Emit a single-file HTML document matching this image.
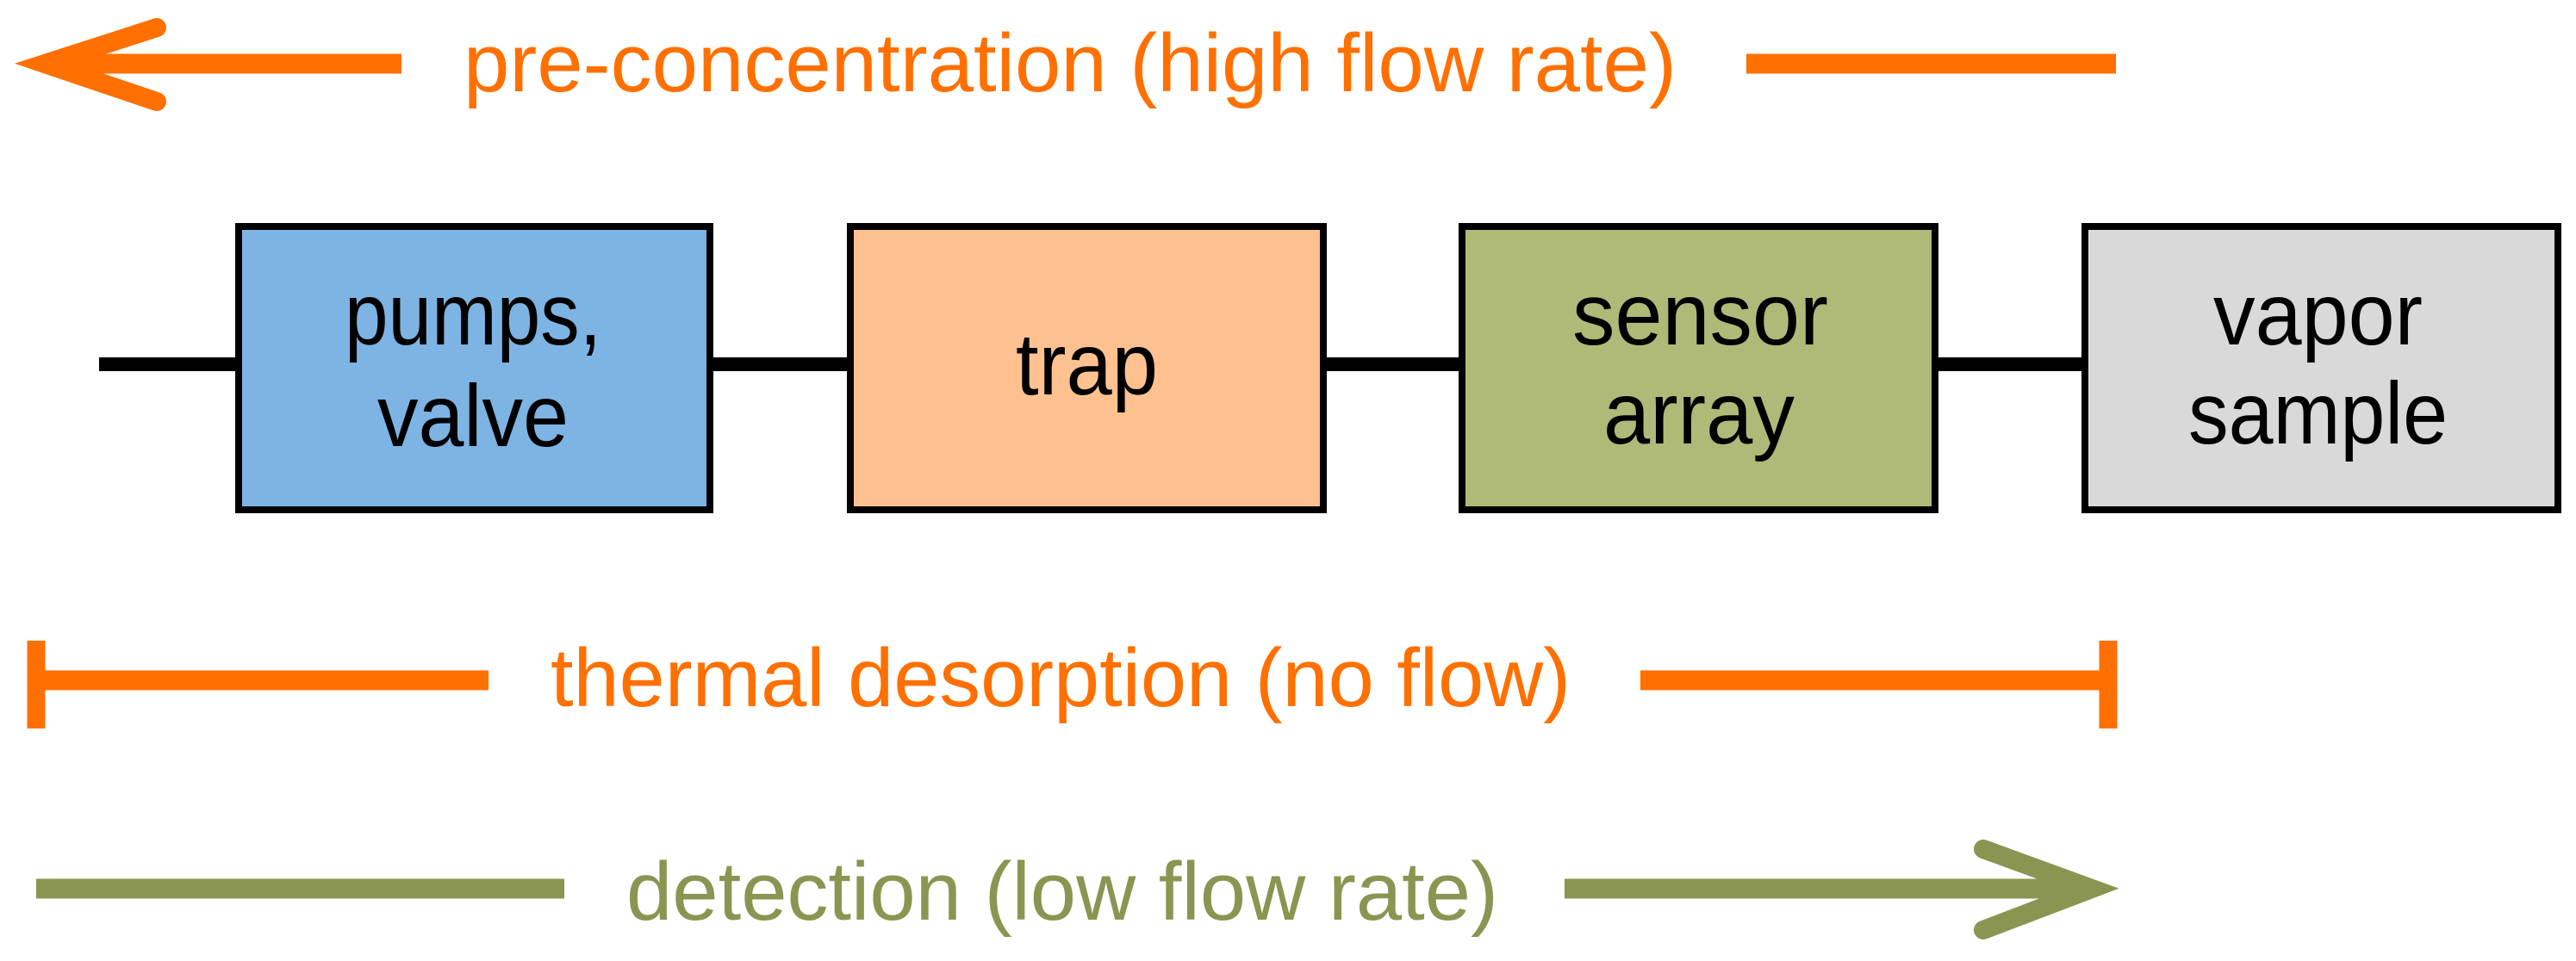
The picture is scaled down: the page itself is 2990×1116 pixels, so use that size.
<!DOCTYPE html>
<html><head><meta charset="utf-8"><style>html,body{margin:0;padding:0;background:#fff;}svg{display:block;}</style></head>
<body>
<svg width="2990" height="1116" viewBox="0 0 2990 1116" xmlns="http://www.w3.org/2000/svg" font-family="Liberation Sans, Arial, sans-serif">
<!-- pre-concentration -->
<g stroke="#ff7000" fill="none">
<line x1="60" y1="74" x2="466" y2="74" stroke-width="23"/>
<polyline points="182,32 52,74 182,118" stroke-width="22" stroke-linecap="round" stroke-linejoin="miter"/>
<line x1="2027" y1="74" x2="2456" y2="74" stroke-width="23"/>
</g>
<text x="538" y="106" font-size="96" fill="#ff7000" textLength="1408" lengthAdjust="spacingAndGlyphs">pre-concentration (high flow rate)</text>

<!-- connectors -->
<g stroke="#000" stroke-width="16">
<line x1="115" y1="423" x2="277" y2="423"/>
<line x1="824" y1="423" x2="987" y2="423"/>
<line x1="1536" y1="423" x2="1697" y2="423"/>
<line x1="2246" y1="423" x2="2420" y2="423"/>
</g>
<!-- boxes -->
<g stroke="#000" stroke-width="8">
<rect x="277" y="263" width="547" height="329" fill="#7eb4e4"/>
<rect x="987" y="263" width="549" height="329" fill="#ffc190"/>
<rect x="1697" y="263" width="549" height="329" fill="#afba78"/>
<rect x="2420" y="263" width="549" height="329" fill="#d9d9d9"/>
</g>
<g font-size="102" fill="#000">
<text x="400" y="400" textLength="298" lengthAdjust="spacingAndGlyphs">pumps,</text>
<text x="438" y="518" textLength="222" lengthAdjust="spacingAndGlyphs">valve</text>
<text x="1179" y="458" textLength="165" lengthAdjust="spacingAndGlyphs">trap</text>
<text x="1825" y="400" textLength="297" lengthAdjust="spacingAndGlyphs">sensor</text>
<text x="1861" y="515" textLength="222" lengthAdjust="spacingAndGlyphs">array</text>
<text x="2569" y="400" textLength="243" lengthAdjust="spacingAndGlyphs">vapor</text>
<text x="2540" y="515" textLength="301" lengthAdjust="spacingAndGlyphs">sample</text>
</g>

<!-- thermal desorption -->
<g stroke="#ff7000">
<line x1="42" y1="790" x2="567" y2="790" stroke-width="23"/>
<line x1="42" y1="744" x2="42" y2="846" stroke-width="21"/>
<line x1="1904" y1="790" x2="2447" y2="790" stroke-width="23"/>
<line x1="2447" y1="744" x2="2447" y2="846" stroke-width="21"/>
</g>
<text x="639" y="820" font-size="96" fill="#ff7000" textLength="1184" lengthAdjust="spacingAndGlyphs">thermal desorption (no flow)</text>

<!-- detection -->
<g stroke="#8b9552" fill="none">
<line x1="42" y1="1032" x2="655" y2="1032" stroke-width="23"/>
<line x1="1816" y1="1032" x2="2410" y2="1032" stroke-width="23"/>
<polyline points="2302,986 2428,1032 2302,1080" stroke-width="22" stroke-linecap="round"/>
</g>
<text x="727" y="1068" font-size="96" fill="#8b9552" textLength="1012" lengthAdjust="spacingAndGlyphs">detection (low flow rate)</text>
</svg>
</body></html>
